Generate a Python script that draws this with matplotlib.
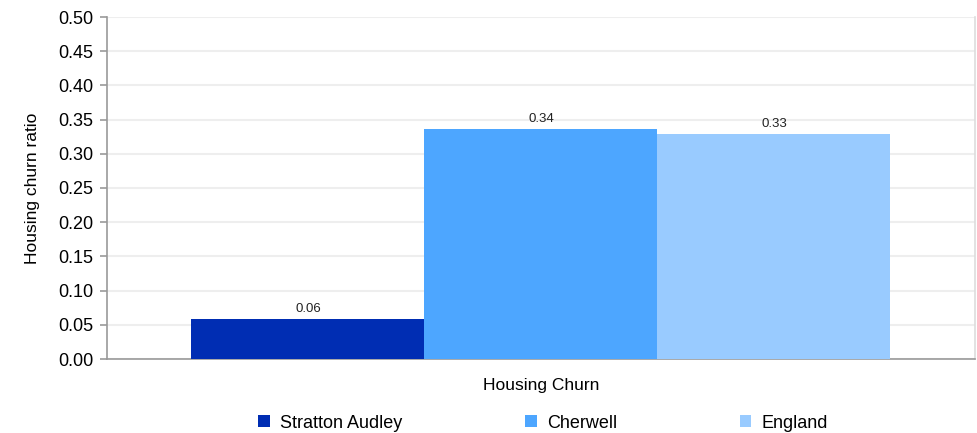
import matplotlib
matplotlib.use("Agg")
import matplotlib.pyplot as plt
import numpy as np

plt.rcParams['font.family'] = ['Liberation Sans', 'DejaVu Sans']

category = "Housing Churn"
series = ["Stratton Audley", "Cherwell", "England"]
values = [0.0585, 0.336, 0.329]
labels = ["0.06", "0.34", "0.33"]
colors = ["#002db3", "#4da6ff", "#99cbff"]
yticks = [0.00, 0.05, 0.10, 0.15, 0.20, 0.25, 0.30, 0.35, 0.40, 0.45, 0.50]

fig = plt.figure(figsize=(9.78, 4.33), dpi=100)
ax = fig.add_axes([107/978, 1 - 359/433, 868/978, 342/433])

bw = 233/868
offsets = [-bw, 0, bw]
for s, v, lab, c, o in zip(series, values, labels, colors, offsets):
    ax.bar(o, v, width=bw, color=c, label=s, zorder=3)
    ax.text(o, v + 0.006, lab, ha='center', va='bottom', fontsize=9.5, color='#222222', zorder=4)

ax.set_xlim(-0.5, 0.5)
ax.set_ylim(0, 0.5)
ax.set_yticks(yticks)
ax.set_yticklabels([f"{t:.2f}" for t in yticks], fontsize=13)
ax.set_xticks([])
ax.grid(axis='y', color='#eeeeee', linewidth=1.5, zorder=0)
for sp in ['left', 'bottom', 'right']:
    ax.spines[sp].set_color('#999999')
    ax.spines[sp].set_linewidth(1.2)
ax.spines['right'].set_color('#dddddd')
ax.spines['top'].set_visible(False)
ax.tick_params(axis='y', length=5, color='#999999', width=1.2, pad=5)
ax.set_ylabel("Housing churn ratio", fontsize=12.5, labelpad=13)
ax.set_xlabel(category, fontsize=12.5, labelpad=14)

fig.legend(loc='center', bbox_to_anchor=(543/978, 1 - 423/433), ncol=3, frameon=False,
           fontsize=13, handlelength=0.65, handleheight=0.65, columnspacing=6.8, handletextpad=0.55)

fig.savefig("out.png", dpi=100)
